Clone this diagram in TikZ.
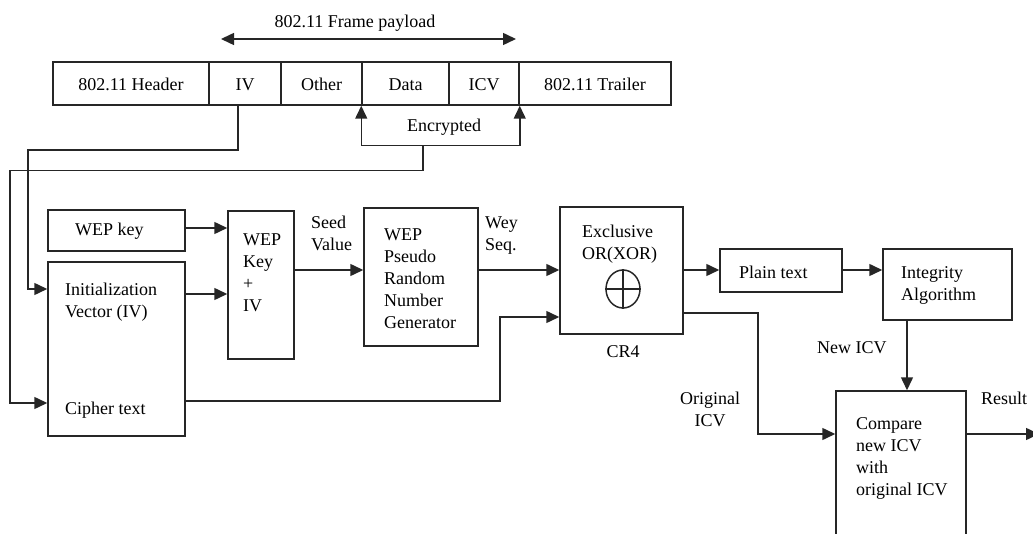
\documentclass[tikz,border=0pt]{standalone}
\usepackage{fontspec}
\setmainfont{Liberation Serif}
\usetikzlibrary{arrows.meta,calc,shapes.geometric}
\begin{document}
\begin{tikzpicture}[x=1pt,y=-1pt,
  every node/.style={font=\fontsize{18}{22}\selectfont},
  ln/.style={line width=1.5pt,draw=black!85},
  box/.style={ln,draw,inner sep=0pt},
  cell/.style={box,minimum height=43pt,text height=16pt,text depth=2pt},
  txt/.style={inner sep=0pt,anchor=base west,align=left},
  ctxt/.style={inner sep=0pt,anchor=base,align=center},
  arr/.style={ln,-{Triangle[length=13pt,width=12pt]}},
  darr/.style={ln,{Triangle[length=13pt,width=12pt]}-{Triangle[length=13pt,width=12pt]}}]
\useasboundingbox (0,0) rectangle (1033,534);
% frame row
\node[cell,minimum width=156pt] (hdr) at (131,83.5) {802.11 Header};
\node[cell,minimum width=72pt] (iv) at (245,83.5) {IV};
\node[cell,minimum width=81pt] (oth) at (321.5,83.5) {Other};
\node[cell,minimum width=87pt] (dat) at (405.5,83.5) {Data};
\node[cell,minimum width=70pt] (icv) at (484,83.5) {ICV};
\node[cell,minimum width=152pt] (trl) at (595,83.5) {802.11 Trailer};
% payload arrow
\coordinate (pl) at (221,39);
\coordinate (pr) at (516,39);
\draw[darr] (pl) -- (pr);
\node[ctxt] (tpay) at (355,28) {802.11 Frame payload};
% encrypted bracket
\draw[darr] (dat.south west) -- ++(0,40) -| (icv.south east);
\node[ctxt] (tenc) at (444,132) {Encrypted};
% boxes
\node[box,minimum width=137pt,minimum height=41pt] (wk) at (116.5,230.5) {};
\node[txt] (twk) at (75,236) {WEP key};
\node[box,minimum width=137pt,minimum height=174pt] (ivb) at (116.5,349) {};
\node[txt] (tivb) at (65,318) {Initialization\\Vector (IV)};
\node[txt] (tcip) at (65,414) {Cipher text};
\node[box,minimum width=66pt,minimum height=148pt] (wki) at (261,285) {};
\node[txt] (twki) at (243,312) {WEP\\Key\\+\\IV};
\node[box,minimum width=114pt,minimum height=138pt] (prng) at (421,277) {};
\node[txt] (tprng) at (384,329) {WEP\\Pseudo\\Random\\Number\\Generator};
\node[box,minimum width=123pt,minimum height=127pt] (xor) at (621.5,270.5) {};
\node[txt] (txor) at (582,260) {Exclusive\\OR(XOR)};
\node[ln,draw,ellipse,minimum width=34pt,minimum height=38pt,inner sep=0pt] (oplus) at (623,289) {};
\draw[ln] (oplus.north) -- (oplus.south);
\draw[ln] (oplus.west) -- (oplus.east);
\node[ctxt] (tcr4) at (623,358) {CR4};
\node[box,minimum width=122pt,minimum height=43pt] (plain) at (781,270.5) {};
\node[txt] (tplain) at (739,279) {Plain text};
\node[box,minimum width=129pt,minimum height=71pt] (integ) at (947.5,284.5) {};
\node[txt] (tinteg) at (901,301) {Integrity\\Algorithm};
\node[box,minimum width=130pt,minimum height=164pt] (cmp) at (901,473) {};
\node[txt] (tcmp) at (856,495) {Compare\\new ICV\\with\\original ICV};
% labels
\node[txt] (tseed) at (311,251) {Seed\\Value};
\node[txt] (twey) at (485,251) {Wey\\Seq.};
\node[txt] (tnew) at (817,353) {New ICV};
\node[ctxt] (torig) at (710,426) {Original\\ICV};
\node[txt] (tres) at (981,404) {Result};
% connectors from frame
\draw[arr] (iv.south -| 238,0) |- (28,150) |- (ivb.west |- 0,289);
\draw[arr] ($(dat.south west)!0.39!(icv.south east)+(0,40)$) -- ++(0,25) -| (10,403) -- (ivb.west |- 0,403);
% main flow
\draw[arr] (wk.east |- 0,228) -- (wki.west |- 0,228);
\draw[arr] (ivb.east |- 0,294) -- (wki.west |- 0,294);
\draw[arr] (wki.east |- 0,270) -- (prng.west |- 0,270);
\draw[arr] (prng.east |- 0,270) -- (xor.west |- 0,270);
\draw[arr] (ivb.east |- 0,401) -| (500,317) -- (xor.west |- 0,317);
\draw[arr] (xor.east |- 0,270) -- (plain.west |- 0,270);
\draw[arr] (plain.east |- 0,270) -- (integ.west |- 0,270);
\draw[arr] (integ.south -| 907,0) -- (cmp.north -| 907,0);
\draw[arr] (xor.east |- 0,313) -| (758,434) -- (cmp.west |- 0,434);
\coordinate (out) at (1039,434);
\draw[arr] (cmp.east |- 0,434) -- (out);
\end{tikzpicture}
\end{document}
